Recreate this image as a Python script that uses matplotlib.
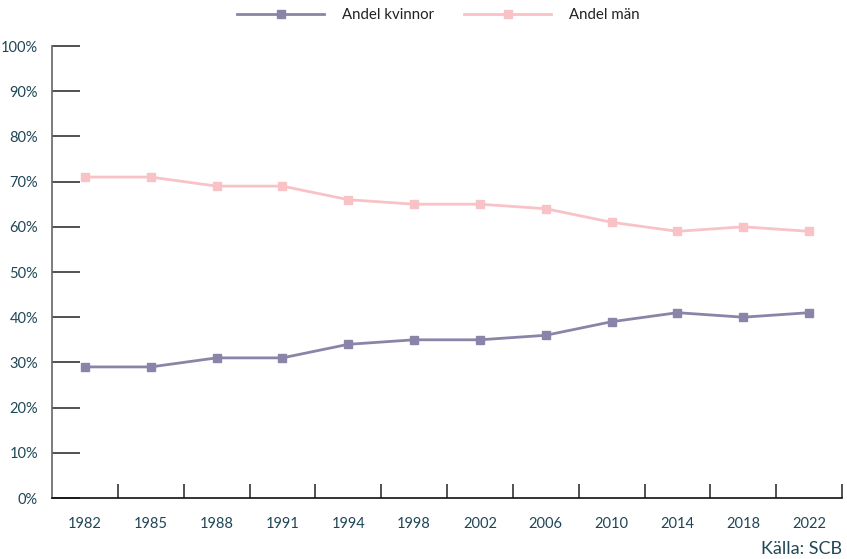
import matplotlib.pyplot as plt
import numpy as np
from matplotlib.ticker import FixedLocator, PercentFormatter

years = ["1982", "1985", "1988", "1991", "1994", "1998", "2002", "2006", "2010", "2014", "2018", "2022"]
andel_kvinnor = [29, 29, 31, 31, 34, 35, 35, 36, 39, 41, 40, 41]
andel_man = [71, 71, 69, 69, 66, 65, 65, 64, 61, 59, 60, 59]

text_color = "#1f4657"
plt.rcParams["font.family"] = ["Lato", "DejaVu Sans"]

fig = plt.figure(figsize=(8.47, 5.59), dpi=100)
ax = fig.add_axes([52 / 847, 61 / 559, 790 / 847, 452 / 559])

x = np.arange(len(years))
ax.plot(x, andel_kvinnor, color="#8a85a8", lw=2, marker="s", ms=6, label="Andel kvinnor")
ax.plot(x, andel_man, color="#f8c2c6", lw=2, marker="s", ms=6, label="Andel män")

ax.set_xlim(-0.5, len(years) - 0.5)
ax.set_ylim(0, 100)
ax.set_xticks(x)
ax.set_xticklabels(years)
ax.xaxis.set_minor_locator(FixedLocator(np.arange(0.5, len(years), 1)))
ax.set_yticks(np.arange(0, 101, 10))
ax.yaxis.set_major_formatter(PercentFormatter(decimals=0))

ax.tick_params(axis="x", which="major", length=0, pad=14, labelsize=10.5, colors=text_color)
ax.tick_params(axis="x", which="minor", direction="in", length=10, width=1.2, color="#333333")
ax.tick_params(axis="y", direction="in", length=20, width=1.2, color="#333333",
               labelsize=10.5, labelcolor=text_color, pad=10)

for s in ["top", "right"]:
    ax.spines[s].set_visible(False)
ax.spines["left"].set_color("#666666")
ax.spines["left"].set_linewidth(1.2)
ax.spines["bottom"].set_color("#111111")
ax.spines["bottom"].set_linewidth(1.2)

fig.legend(loc="upper center", bbox_to_anchor=(0.518, 1.01), ncol=2, frameon=False,
           handlelength=5.8, columnspacing=2.0, fontsize=10.8, handletextpad=1.2,
           labelcolor="#222222")

fig.text(842 / 847, 2 / 559, "Källa: SCB", ha="right", va="bottom", fontsize=13, color=text_color)

fig.savefig("out.png", dpi=100)
